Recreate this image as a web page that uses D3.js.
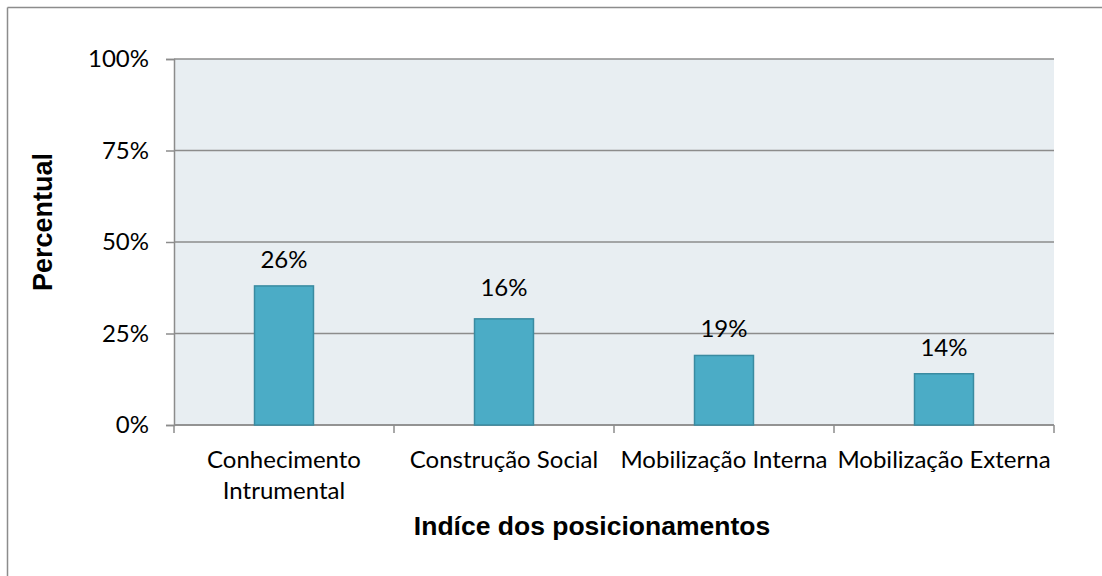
<!DOCTYPE html>
<html><head><meta charset="utf-8">
<script src="https://cdn.jsdelivr.net/npm/d3@7"></script>
<style>body{margin:0;background:#fff;} svg{display:block;}</style>
</head><body>
<svg id="chart" width="1102" height="576"></svg>
<script>
const categories = ["Conhecimento Intrumental", "Construção Social", "Mobilização Interna", "Mobilização Externa"];
const categoryLines = [["Conhecimento", "Intrumental"], ["Construção Social"], ["Mobilização Interna"], ["Mobilização Externa"]];
const barValues = [38, 29, 19, 14];
const labelTexts = ["26%", "16%", "19%", "14%"];
const labelOffsets = [26, 31, 26, 26];
const yTicks = [0, 25, 50, 75, 100];
const yTitle = "Percentual";
const xTitle = "Indíce dos posicionamentos";

const svg = d3.select("#chart");
const W = 1102, H = 576;
const m = {left: 174, top: 59, right: W - 1054, bottom: H - 425};
const iw = W - m.left - m.right, ih = H - m.top - m.bottom;
const tickFont = "Lato, 'Open Sans', sans-serif";
const fs = 24;

// outer frame (left and top visible)
svg.append("line").attr("x1", 7.5).attr("x2", W).attr("y1", 7.5).attr("y2", 7.5).attr("stroke", "#8c8c8c").attr("stroke-width", 1.5);
svg.append("line").attr("x1", 7.5).attr("x2", 7.5).attr("y1", 7.5).attr("y2", H).attr("stroke", "#8c8c8c").attr("stroke-width", 1.5);

const g = svg.append("g").attr("transform", `translate(${m.left},${m.top})`);
const x = d3.scaleBand().domain(categories).range([0, iw]).paddingInner(0.732).paddingOuter(0.366);
const xb = d3.scaleBand().domain(categories).range([0, iw]);
const y = d3.scaleLinear().domain([0, 100]).range([ih, 0]);

g.append("rect").attr("width", iw).attr("height", ih).attr("fill", "#e8eef2");

// gridlines + y axis
const ya = g.append("g").call(d3.axisLeft(y).tickValues(yTicks).tickFormat(d => d + "%").tickSize(8).tickPadding(17));
ya.select(".domain").attr("stroke", "#8c8c8c").attr("stroke-width", 1.5);
ya.selectAll(".tick line").attr("stroke", "#8c8c8c").attr("stroke-width", 1.5);
ya.selectAll(".tick text").attr("font-family", tickFont).attr("font-size", fs).attr("fill", "#000");
g.append("g").selectAll("line").data(yTicks).join("line")
  .attr("x1", 0).attr("x2", iw).attr("y1", d => y(d)).attr("y2", d => y(d))
  .attr("stroke", "#8c8c8c").attr("stroke-width", 1.5);

// x axis ticks at band boundaries
const xa = g.append("g").attr("transform", `translate(0,${ih})`);
xa.append("line").attr("x1", 0).attr("x2", iw).attr("stroke", "#8c8c8c").attr("stroke-width", 1.5);
const bounds = categories.map(c => xb(c)).concat([iw]);
xa.selectAll("line.t").data(bounds).join("line").attr("class", "t")
  .attr("x1", d => d).attr("x2", d => d).attr("y1", 0).attr("y2", 8)
  .attr("stroke", "#8c8c8c").attr("stroke-width", 1.5);
categories.forEach((c, i) => {
  const t = xa.append("text").attr("text-anchor", "middle").attr("font-family", tickFont)
    .attr("font-size", fs).attr("fill", "#000");
  categoryLines[i].forEach((ln, j) => {
    t.append("tspan").attr("x", xb(c) + xb.bandwidth() / 2).attr("y", 43 + j * 31).text(ln);
  });
});

// bars
g.selectAll("rect.bar").data(categories).join("rect").attr("class", "bar")
  .attr("x", d => x(d)).attr("width", x.bandwidth())
  .attr("y", (d, i) => y(barValues[i])).attr("height", (d, i) => ih - y(barValues[i]))
  .attr("fill", "#4bacc6").attr("stroke", "#3a8ba1").attr("stroke-width", 1.5);

// labels
g.selectAll("text.lbl").data(categories).join("text").attr("class", "lbl")
  .attr("x", d => x(d) + x.bandwidth() / 2)
  .attr("y", (d, i) => y(barValues[i]) - labelOffsets[i] + 8)
  .attr("text-anchor", "middle").attr("font-family", tickFont).attr("font-size", fs).attr("fill", "#000")
  .text((d, i) => labelTexts[i]);

// titles
svg.append("text").attr("transform", `translate(52,222) rotate(-90)`).attr("text-anchor", "middle")
  .attr("font-family", "'Liberation Sans', Arial, sans-serif").attr("font-weight", "bold").attr("font-size", 27)
  .text(yTitle);
svg.append("text").attr("x", 592).attr("y", 535).attr("text-anchor", "middle")
  .attr("font-family", "'Liberation Sans', Arial, sans-serif").attr("font-weight", "bold").attr("font-size", 26.5)
  .text(xTitle);
</script>
</body></html>
